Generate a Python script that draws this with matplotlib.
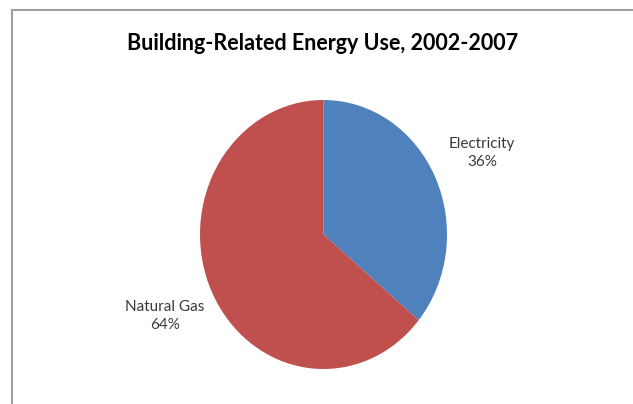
import matplotlib
matplotlib.use("Agg")
import matplotlib.pyplot as plt
from matplotlib.lines import Line2D

categories = ["Electricity", "Natural Gas"]
values = [36, 64]
colors = ["#4F81BD", "#C0504D"]
title = "Building-Related Energy Use, 2002-2007"

plt.rcParams['font.family'] = ['Lato', 'DejaVu Sans']

fig = plt.figure(figsize=(6.33, 4.04), dpi=100)
fig.patch.set_facecolor("white")

# chart frame (cropped at right/bottom)
fig.add_artist(Line2D([12/633, 12/633], [0, 1 - 10/404], color="#A0A0A0", lw=1.5,
                      transform=fig.transFigure))
fig.add_artist(Line2D([12/633, 1], [1 - 10/404, 1 - 10/404], color="#A0A0A0", lw=1.5,
                      transform=fig.transFigure))

ax = fig.add_axes([200/633, 35/404, 247/633, 269/404])
labels = [f"{c}\n{v}%" for c, v in zip(categories, values)]
wedges, texts = ax.pie(values, colors=colors, startangle=90, counterclock=False,
                       labels=labels, labeldistance=1.42,
                       textprops=dict(ha="center", va="center", fontsize=11,
                                      color="#3A3A3A", linespacing=1.35))
ax.set_aspect("auto")
ax.set_xlim(-1, 1)
ax.set_ylim(-1, 1)

fig.text(323/633, 1 - 43/404, title, ha="center", va="center",
         fontsize=15.5, fontweight="bold", color="black")

fig.savefig("out.png", dpi=100, facecolor="white")
